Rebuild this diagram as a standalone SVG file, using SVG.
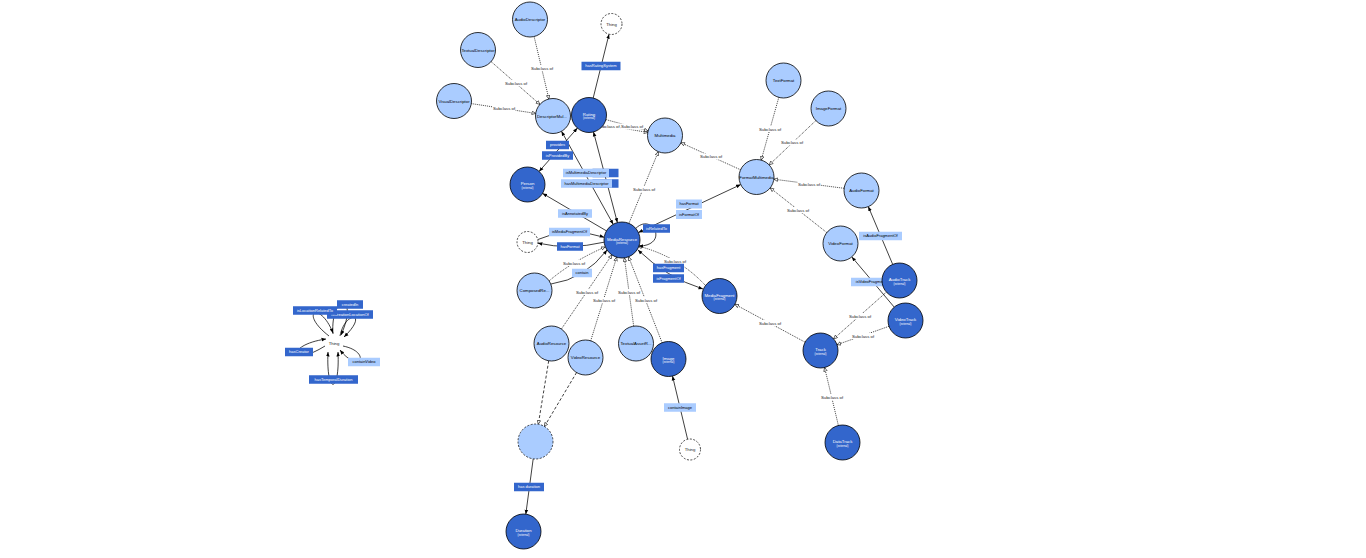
<svg xmlns="http://www.w3.org/2000/svg" width="1366" height="558" viewBox="0 0 1366 558">
<style>
.c{fill:#aaccff;stroke:#000;stroke-width:0.8}
.e{fill:#3366cc;stroke:#000;stroke-width:0.8}
.th{fill:#fff;stroke:#000;stroke-width:0.7;stroke-dasharray:2,1.5}
.an{fill:#aaccff;stroke:#000;stroke-width:0.7;stroke-dasharray:2,1.5}
.t{font-family:"Liberation Sans",Arial,sans-serif;font-size:4.3px;text-anchor:middle;fill:#000}
.tw{fill:#fff}
.tg{fill:#222}
.x{font-family:"Liberation Sans",Arial,sans-serif;font-size:2.8px;text-anchor:middle;fill:#fff}
.lt{font-family:"Liberation Sans",Arial,sans-serif;font-size:4px;text-anchor:middle}
.l{fill:none;stroke:#000;stroke-width:0.75}
.s{fill:none;stroke:#000;stroke-width:0.75;stroke-dasharray:1,1}
.u{fill:none;stroke:#000;stroke-width:0.75;stroke-dasharray:3,2}
.pl{fill:#aaccff}
.pd{fill:#3366cc}
.sw{fill:#fff}
</style>
<defs>
<marker id="a" viewBox="0 0 10 10" refX="10" refY="5" markerWidth="4.5" markerHeight="4.5" markerUnits="userSpaceOnUse" orient="auto-start-reverse"><path d="M0,1L10,5L0,9z" fill="#000"/></marker>
<marker id="h" viewBox="0 0 12 12" refX="11" refY="6" markerWidth="4.5" markerHeight="4.5" markerUnits="userSpaceOnUse" orient="auto"><path d="M1,1.5L11,6L1,10.5z" fill="#fff" stroke="#000" stroke-width="1.5"/></marker>
</defs>
<rect width="1366" height="558" fill="#fff"/>
<g id="connectors">
<g marker-end="url(#h)">
<path class="s" d="M534.1,36.5L548.9,99"/>
<path class="s" d="M491.1,61.6L539.9,104.4"/>
<path class="s" d="M471.3,103.6L535.7,113.4"/>
<path class="s" d="M570.2,119L647.8,132.5"/>
<path class="s" d="M605.9,119.6L648.1,131"/>
<path class="s" d="M628.9,223.4L658.3,151.7"/>
<path class="s" d="M740.6,169.8L680.9,142.7"/>
<path class="s" d="M778.8,97.4L761.2,160.1"/>
<path class="s" d="M815.8,120.6L769.2,164.9"/>
<path class="s" d="M844.1,188.3L773.9,179.2"/>
<path class="s" d="M826.8,232.6L770.2,187.9"/>
<path class="s" d="M886.4,292.1L833.6,338.9"/>
<path class="s" d="M889,326.3L837,344.7"/>
<path class="s" d="M805.1,342.2L734.9,304.3"/>
<path class="s" d="M838.4,425.5L824.6,367.5"/>
<path class="s" d="M705,285Q678.5,256.5 638,246"/>
<path class="s" d="M549,281Q571,262 605,247"/>
<path class="s" d="M561.4,329L611.9,254.9"/>
<path class="s" d="M590.7,340.8L616.7,257.2"/>
<path class="s" d="M633.7,326.2L624.4,257.8"/>
<path class="s" d="M662.1,342.7L628.6,256.8"/>
<path class="u" d="M548.7,360.8L538.3,424.2"/>
<path class="u" d="M576.6,372.5L544.4,426.5"/>
</g>
<g marker-end="url(#a)">
<path class="l" d="M593.2,98L609,34.2"/>
<path class="l" d="M539.1,171.4L577.4,128.1" marker-start="url(#a)"/>
<path class="l" d="M613.2,224.3L561.5,131.3" marker-start="url(#a)"/>
<path class="l" d="M617.4,222.6L593.5,131.9" marker-start="url(#a)"/>
<path class="l" d="M606.5,230.9L542.6,193.4"/>
<path class="l" d="M537.7,239.6Q568,225.5 604.2,237.3"/>
<path class="l" d="M604.1,242.2Q569,250.3 537.9,243.1"/>
<path class="l" d="M635.8,228.4C652,212 670,245 638.9,246.2"/>
<path class="l" d="M638.4,232.5L740.7,184.6" marker-start="url(#a)"/>
<path class="l" d="M551,284Q585,279 607,250"/>
<path class="l" d="M638,250Q666.5,277.5 703,289" marker-start="url(#a)"/>
<path class="l" d="M687.6,439.3L672.5,376"/>
<path class="l" d="M892.7,264.4L868.3,206.6"/>
<path class="l" d="M894.2,307.1L851.8,256.9"/>
<path class="l" d="M533.2,458.8L525.8,514.2"/>
<path class="l" d="M329,336C298,312 320,300 333,333"/>
<path class="l" d="M333,334C330,293 360,293 341,335"/>
<path class="l" d="M340,336C345,310 370,312 344,337"/>
<path class="l" d="M325,346C290,368 285,345 326,339"/>
<path class="l" d="M328,352C326,395 340,395 338,352" marker-start="url(#a)"/>
<path class="l" d="M343,346C372,352 360,375 340,350"/>
</g>
<g id="subclass-labels">
<rect class="sw" x="530.5" y="65" width="23" height="6"/><text class="t tg" x="542" y="69.5">Subclass of</text>
<rect class="sw" x="504.5" y="80" width="23" height="6"/><text class="t tg" x="516" y="84.5">Subclass of</text>
<rect class="sw" x="492.5" y="105.5" width="23" height="6"/><text class="t tg" x="504" y="110">Subclass of</text>
<rect class="sw" x="620.5" y="123.5" width="23" height="6"/><text class="t tg" x="632" y="128">Subclass of</text>
<rect class="sw" x="597" y="123.5" width="23" height="6"/><text class="t tg" x="608.5" y="128">Subclass of</text>
<rect class="sw" x="632.5" y="186" width="23" height="6"/><text class="t tg" x="644" y="190.5">Subclass of</text>
<rect class="sw" x="699.5" y="153.5" width="23" height="6"/><text class="t tg" x="711" y="158">Subclass of</text>
<rect class="sw" x="758.5" y="126" width="23" height="6"/><text class="t tg" x="770" y="130.5">Subclass of</text>
<rect class="sw" x="780.5" y="139.5" width="23" height="6"/><text class="t tg" x="792" y="144">Subclass of</text>
<rect class="sw" x="797.5" y="181" width="23" height="6"/><text class="t tg" x="809" y="185.5">Subclass of</text>
<rect class="sw" x="786.5" y="207" width="23" height="6"/><text class="t tg" x="798" y="211.5">Subclass of</text>
<rect class="sw" x="848.5" y="313" width="23" height="6"/><text class="t tg" x="860" y="317.5">Subclass of</text>
<rect class="sw" x="851.5" y="333" width="23" height="6"/><text class="t tg" x="863" y="337.5">Subclass of</text>
<rect class="sw" x="758.5" y="320" width="23" height="6"/><text class="t tg" x="770" y="324.5">Subclass of</text>
<rect class="sw" x="820.5" y="394" width="23" height="6"/><text class="t tg" x="832" y="398.5">Subclass of</text>
<rect class="sw" x="663.5" y="258" width="23" height="6"/><text class="t tg" x="675" y="262.5">Subclass of</text>
<rect class="sw" x="562.5" y="260" width="23" height="6"/><text class="t tg" x="574" y="264.5">Subclass of</text>
<rect class="sw" x="575.5" y="289" width="23" height="6"/><text class="t tg" x="587" y="293.5">Subclass of</text>
<rect class="sw" x="592.5" y="297" width="23" height="6"/><text class="t tg" x="604" y="301.5">Subclass of</text>
<rect class="sw" x="617.5" y="289" width="23" height="6"/><text class="t tg" x="629" y="293.5">Subclass of</text>
<rect class="sw" x="634.5" y="297" width="23" height="6"/><text class="t tg" x="646" y="301.5">Subclass of</text>
</g>
<g id="property-labels">
<rect class="pd" x="581.5" y="61.75" width="39" height="8.5"/><text class="lt tw" x="601" y="67.4">hasRatingSystem</text>
<rect class="pd" x="546" y="140.75" width="23" height="8.5"/><text class="lt tw" x="557.5" y="146.4">provides</text>
<rect class="pd" x="542" y="151.25" width="31" height="8.5"/><text class="lt tw" x="557.5" y="156.9">isProvidedBy</text>
<rect class="pd" x="592.5" y="168.75" width="26" height="8.5"/>
<rect class="pd" x="592.5" y="179.25" width="26" height="8.5"/>
<rect class="pl" x="563" y="168.75" width="46" height="8.5"/><text class="lt" x="586" y="174.4">isMultimediaDescriptor</text>
<rect class="pl" x="561" y="179.25" width="51" height="8.5"/><text class="lt" x="586.5" y="184.9">hasMultimediaDescriptor</text>
<rect class="pl" x="558" y="209.25" width="34" height="8.5"/><text class="lt" x="575" y="214.9">isAnnotatedBy</text>
<rect class="pl" x="549" y="227.75" width="41" height="8.5"/><text class="lt" x="569.5" y="233.4">isMediaFragmentOf</text>
<rect class="pd" x="557" y="242.25" width="26" height="8.5"/><text class="lt tw" x="570" y="247.9">hasFormat</text>
<rect class="pd" x="643" y="224.25" width="27" height="8.5"/><text class="lt tw" x="656.5" y="229.9">isRelatedTo</text>
<rect class="pl" x="676" y="199.5" width="26" height="9"/><text class="lt" x="689" y="205.4">hasFormat</text>
<rect class="pl" x="676" y="210" width="26" height="9"/><text class="lt" x="689" y="215.9">isFormatOf</text>
<rect class="pl" x="572" y="268.75" width="20" height="8.5"/><text class="lt" x="582" y="274.4">contain</text>
<rect class="pd" x="653" y="263.75" width="31" height="8.5"/><text class="lt tw" x="668.5" y="269.4">hasFragment</text>
<rect class="pd" x="653" y="274.25" width="31" height="8.5"/><text class="lt tw" x="668.5" y="279.9">isFragmentOf</text>
<rect class="pl" x="664" y="403.25" width="32" height="8.5"/><text class="lt" x="680" y="408.9">containImage</text>
<rect class="pl" x="859" y="231.75" width="43" height="8.5"/><text class="lt" x="880.5" y="237.4">isAudioFragmentOf</text>
<rect class="pl" x="851" y="277.75" width="44" height="8.5"/><text class="lt" x="873" y="283.4">isVideoFragmentOf</text>
<rect class="pd" x="514" y="482.75" width="30" height="8.5"/><text class="lt tw" x="529" y="488.4">has duration</text>
<rect class="pd" x="327" y="310.25" width="46" height="8.5"/><text class="lt tw" x="350" y="315.9">isCreationLocationOf</text>
<rect class="pd" x="337" y="300.25" width="26" height="8.5"/><text class="lt tw" x="350" y="305.9">createdIn</text>
<rect class="pd" x="293" y="306.25" width="44" height="8.5"/><text class="lt tw" x="315" y="311.9">isLocationRelatedTo</text>
<rect class="pd" x="285" y="347.75" width="28" height="8.5"/><text class="lt tw" x="299" y="353.4">hasCreator</text>
<rect class="pl" x="348" y="357.75" width="32" height="8.5"/><text class="lt" x="364" y="363.4">containVideo</text>
<rect class="pd" x="309" y="375.25" width="49" height="8.5"/><text class="lt tw" x="333.5" y="380.9">hasTemporalDuration</text>
</g>
</g>
<g id="AudioDescriptor"><circle class="c" cx="530" cy="19.5" r="17.5"/><text class="t" x="530" y="21">AudioDescriptor</text></g>
<g id="Thing1"><circle class="th" cx="611.5" cy="24" r="10.5"/><text class="t tg" x="611.5" y="25.5">Thing</text></g>
<g id="TextualDescriptor"><circle class="c" cx="478" cy="50" r="17.5"/><text class="t" x="478" y="51.5">TextualDescriptor</text></g>
<g id="VisualDescriptor"><circle class="c" cx="454" cy="101" r="17.5"/><text class="t" x="454" y="102.5">VisualDescriptor</text></g>
<g id="DescriptorMul"><circle class="c" cx="553" cy="116" r="17.5"/><text class="t" x="552" y="117.5">DescriptorMul...</text></g>
<g id="Rating"><circle class="e" cx="589" cy="115" r="17.5"/><text class="t tw" x="589" y="115.5">Rating</text><text class="x" x="589" y="119">(external)</text></g>
<g id="Multimedia"><circle class="c" cx="665" cy="135.5" r="17.5"/><text class="t" x="665" y="137">Multimedia</text></g>
<g id="TextFormat"><circle class="c" cx="783.5" cy="80.5" r="17.5"/><text class="t" x="783.5" y="82">TextFormat</text></g>
<g id="ImageFormat"><circle class="c" cx="828.5" cy="108.5" r="17.5"/><text class="t" x="828.5" y="110">ImageFormat</text></g>
<g id="FormatMultimedia"><circle class="c" cx="756.5" cy="177" r="17.5"/><text class="t" x="756.5" y="178.5">FormatMultimedia</text></g>
<g id="AudioFormat"><circle class="c" cx="861.5" cy="190.5" r="17.5"/><text class="t" x="861.5" y="192">AudioFormat</text></g>
<g id="VideoFormat"><circle class="c" cx="840.5" cy="243.5" r="17.5"/><text class="t" x="840.5" y="245">VideoFormat</text></g>
<g id="AudioTrack"><circle class="e" cx="899.5" cy="280.5" r="17.5"/><text class="t tw" x="899.5" y="281">AudioTrack</text><text class="x" x="899.5" y="284.5">(external)</text></g>
<g id="VideoTrack"><circle class="e" cx="905.5" cy="320.5" r="17.5"/><text class="t tw" x="905.5" y="321">VideoTrack</text><text class="x" x="905.5" y="324.5">(external)</text></g>
<g id="Track"><circle class="e" cx="820.5" cy="350.5" r="17.5"/><text class="t tw" x="820.5" y="351">Track</text><text class="x" x="820.5" y="354.5">(external)</text></g>
<g id="DataTrack"><circle class="e" cx="842.5" cy="442.5" r="17.5"/><text class="t tw" x="842.5" y="443">DataTrack</text><text class="x" x="842.5" y="446.5">(external)</text></g>
<g id="MediaFragment"><circle class="e" cx="719.5" cy="296" r="17.5"/><text class="t tw" x="719.5" y="296.5">MediaFragment</text><text class="x" x="719.5" y="300">(external)</text></g>
<g id="Image"><circle class="e" cx="668.5" cy="359" r="17.5"/><text class="t tw" x="668.5" y="359.5">Image</text><text class="x" x="668.5" y="363">(external)</text></g>
<g id="Thing3"><circle class="th" cx="690" cy="449.5" r="10.5"/><text class="t tg" x="690" y="451">Thing</text></g>
<g id="Person"><circle class="e" cx="527.5" cy="184.5" r="17.5"/><text class="t tw" x="527.5" y="185">Person</text><text class="x" x="527.5" y="188.5">(external)</text></g>
<g id="Thing2"><circle class="th" cx="527.5" cy="242" r="10.5"/><text class="t tg" x="527.5" y="243.5">Thing</text></g>
<g id="MediaResource"><circle class="e" cx="622" cy="240" r="18"/><text class="t tw" x="622" y="240.5">MediaResource</text><text class="x" x="622" y="244">(external)</text></g>
<g id="ComposedResource"><circle class="c" cx="534.5" cy="290.5" r="17.5"/><text class="t" x="534.5" y="292">ComposedRe...</text></g>
<g id="AudioResource"><circle class="c" cx="551.5" cy="343.5" r="17.5"/><text class="t" x="551.5" y="345">AudioResource</text></g>
<g id="VideoResource"><circle class="c" cx="585.5" cy="357.5" r="17.5"/><text class="t" x="585.5" y="359">VideoResource</text></g>
<g id="TextualAssetResource"><circle class="c" cx="636" cy="343.5" r="17.5"/><text class="t" x="636" y="345">TextualAssetR...</text></g>
<g id="Anonymous"><circle class="an" cx="535.5" cy="441.5" r="17.5"/></g>
<g id="Duration"><circle class="e" cx="523.5" cy="531.5" r="17.5"/><text class="t tw" x="523.5" y="532">Duration</text><text class="x" x="523.5" y="535.5">(external)</text></g>
<g id="Thing0"><text class="t tg" x="334" y="344.5">Thing</text></g>
</svg>
